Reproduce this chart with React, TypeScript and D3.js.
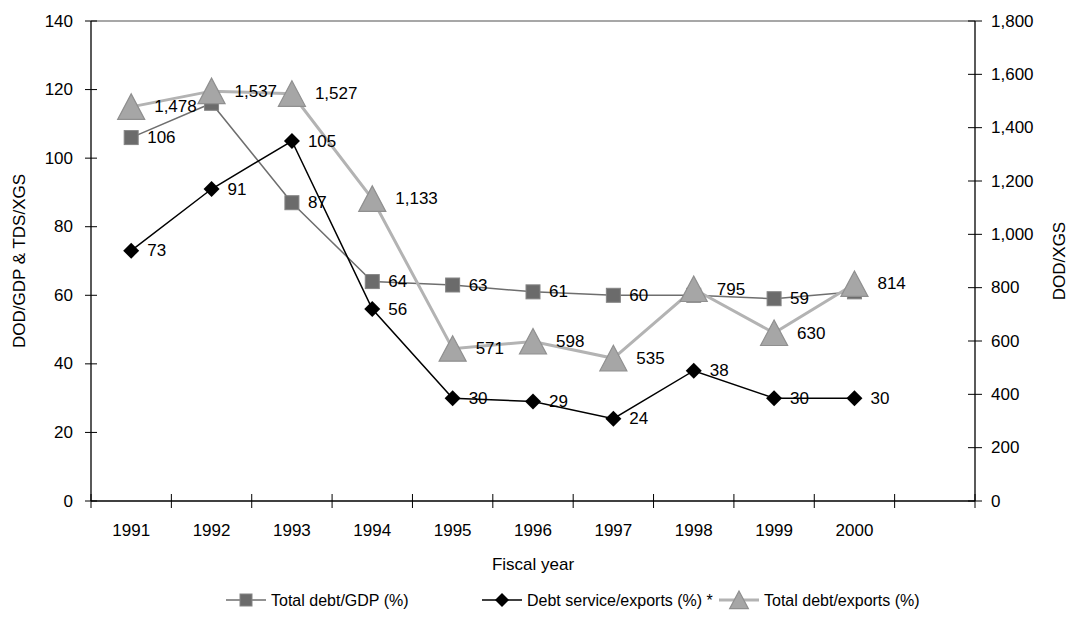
import React, { useEffect, useRef } from "react";
import * as d3 from "d3";

const years = ["1991", "1992", "1993", "1994", "1995", "1996", "1997", "1998", "1999", "2000"];
const debtGdp = [106, 116, 87, 64, 63, 61, 60, 60, 59, 61];
const debtGdpShown = [true, false, true, true, true, true, true, false, true, false];
const debtService = [73, 91, 105, 56, 30, 29, 24, 38, 30, 30];
const debtExports = [1478, 1537, 1527, 1133, 571, 598, 535, 795, 630, 814];
const leftMax = 140;
const rightMax = 1800;

const FONT = "'Liberation Sans', Arial, sans-serif";

export default function App() {
  const ref = useRef<SVGSVGElement | null>(null);

  useEffect(() => {
    const svg = d3.select(ref.current);
    svg.selectAll("*").remove();

    const margin = { top: 21, right: 95, bottom: 133, left: 91 };
    const W = 1070, H = 634;
    const x0 = margin.left, x1 = W - margin.right;
    const yBase = H - margin.bottom;

    const x = d3.scaleBand<string>()
      .domain([...years, "_pad"])
      .range([x0, x1])
      .padding(0);
    const cx = (i: number) => (x(years[i]) as number) + x.bandwidth() / 2;

    const yL = d3.scaleLinear().domain([0, leftMax]).range([yBase, margin.top]);
    const yR = d3.scaleLinear().domain([0, rightMax]).range([yBase, margin.top]);

    const g = svg.append("g").style("font-family", FONT).style("font-size", "17px");

    // top border
    g.append("line")
      .attr("x1", x0).attr("x2", x1)
      .attr("y1", margin.top).attr("y2", margin.top)
      .attr("stroke", "#8a8a8a").attr("stroke-width", 1.5);

    // left axis
    g.append("line").attr("x1", x0).attr("x2", x0).attr("y1", margin.top).attr("y2", yBase)
      .attr("stroke", "#000").attr("stroke-width", 1.3);
    yL.ticks(7).forEach(t => {
      g.append("line").attr("x1", x0 - 6).attr("x2", x0 + 6)
        .attr("y1", yL(t)).attr("y2", yL(t)).attr("stroke", "#000");
      g.append("text").attr("x", x0 - 18).attr("y", yL(t))
        .attr("text-anchor", "end").attr("dominant-baseline", "central")
        .text(t);
    });

    // right axis
    g.append("line").attr("x1", x1).attr("x2", x1).attr("y1", margin.top).attr("y2", yBase)
      .attr("stroke", "#000").attr("stroke-width", 1.3);
    yR.ticks(9).forEach(t => {
      g.append("line").attr("x1", x1 - 7).attr("x2", x1 + 7)
        .attr("y1", yR(t)).attr("y2", yR(t)).attr("stroke", "#000");
      g.append("text").attr("x", x1 + 16).attr("y", yR(t))
        .attr("dominant-baseline", "central")
        .text(d3.format(",")(t));
    });

    // x axis
    g.append("line").attr("x1", x0).attr("x2", x1).attr("y1", yBase).attr("y2", yBase)
      .attr("stroke", "#000").attr("stroke-width", 1.3);
    x.domain().forEach((d, i) => {
      const bx = x(d) as number;
      g.append("line").attr("x1", bx).attr("x2", bx).attr("y1", yBase - 7).attr("y2", yBase + 7)
        .attr("stroke", "#000");
      if (i === x.domain().length - 1) {
        g.append("line").attr("x1", x1).attr("x2", x1).attr("y1", yBase - 7).attr("y2", yBase + 7)
          .attr("stroke", "#000");
      }
    });
    years.forEach((yr, i) => {
      g.append("text").attr("x", cx(i)).attr("y", yBase + 29)
        .attr("text-anchor", "middle").attr("dominant-baseline", "central").text(yr);
    });

    // axis titles
    g.append("text").attr("x", (x0 + x1) / 2).attr("y", yBase + 63)
      .attr("text-anchor", "middle").attr("dominant-baseline", "central").text("Fiscal year");
    const midY = (margin.top + yBase) / 2;
    g.append("text").attr("transform", `translate(19,${midY}) rotate(-90)`)
      .attr("text-anchor", "middle").attr("dominant-baseline", "central").text("DOD/GDP & TDS/XGS");
    g.append("text").attr("transform", `translate(1059,${midY}) rotate(-90)`)
      .attr("text-anchor", "middle").attr("dominant-baseline", "central").text("DOD/XGS");

    const sq = (sel: any, px: number, py: number, s = 7) => sel.append("rect")
      .attr("x", px - s).attr("y", py - s).attr("width", 2 * s).attr("height", 2 * s)
      .attr("fill", "#6b6b6b").attr("stroke", "#858585").attr("stroke-width", 1);
    const dia = (sel: any, px: number, py: number, s = 8) => sel.append("path")
      .attr("d", `M${px},${py - s}L${px + s},${py}L${px},${py + s}L${px - s},${py}Z`)
      .attr("fill", "#000");
    const tri = (sel: any, px: number, py: number, s = 13) => sel.append("path")
      .attr("d", `M${px},${py - s}L${px + s * 1.04},${py + s * 0.96}L${px - s * 1.04},${py + s * 0.96}Z`)
      .attr("fill", "#a6a6a6").attr("stroke", "#8f8f8f").attr("stroke-width", 1.2);

    const line = d3.line<[number, number]>();

    // Total debt/GDP
    g.append("path")
      .attr("d", line(debtGdp.map((v, i) => [cx(i), yL(v)])))
      .attr("fill", "none").attr("stroke", "#6e6e6e").attr("stroke-width", 1.5);
    debtGdp.forEach((v, i) => sq(g, cx(i), yL(v)));

    // Debt service/exports
    g.append("path")
      .attr("d", line(debtService.map((v, i) => [cx(i), yL(v)])))
      .attr("fill", "none").attr("stroke", "#000").attr("stroke-width", 1.5);
    debtService.forEach((v, i) => dia(g, cx(i), yL(v)));

    // Total debt/exports
    g.append("path")
      .attr("d", line(debtExports.map((v, i) => [cx(i), yR(v)])))
      .attr("fill", "none").attr("stroke", "#b3b3b3").attr("stroke-width", 3);
    debtExports.forEach((v, i) => tri(g, cx(i), yR(v)));

    // data labels
    debtGdp.forEach((v, i) => {
      if (!debtGdpShown[i]) return;
      g.append("text").attr("x", cx(i) + 16).attr("y", yL(v))
        .attr("dominant-baseline", "central").text(v);
    });
    debtService.forEach((v, i) => {
      g.append("text").attr("x", cx(i) + 16).attr("y", yL(v))
        .attr("dominant-baseline", "central").text(v);
    });
    debtExports.forEach((v, i) => {
      g.append("text").attr("x", cx(i) + 23).attr("y", yR(v))
        .attr("dominant-baseline", "central").text(d3.format(",")(v));
    });

    // legend
    const ly = 600;
    const items = [
      { label: "Total debt/GDP (%)", color: "#6e6e6e", w: 1.5, mark: sq, s: 6, x: 226 },
      { label: "Debt service/exports (%) *", color: "#000", w: 1.5, mark: dia, s: 7, x: 482 },
      { label: "Total debt/exports (%)", color: "#b3b3b3", w: 3, mark: tri, s: 9, x: 719 },
    ];
    items.forEach(it => {
      g.append("line").attr("x1", it.x).attr("x2", it.x + 40).attr("y1", ly).attr("y2", ly)
        .attr("stroke", it.color).attr("stroke-width", it.w);
      it.mark(g, it.x + 20, ly, it.s);
      g.append("text").attr("x", it.x + 45).attr("y", ly)
        .attr("dominant-baseline", "central").style("font-size", "16px").text(it.label);
    });
  }, []);

  return (
    <svg ref={ref} width={1070} height={634}
      style={{ position: "absolute", left: 0, top: 0, background: "#fff" }} />
  );
}
